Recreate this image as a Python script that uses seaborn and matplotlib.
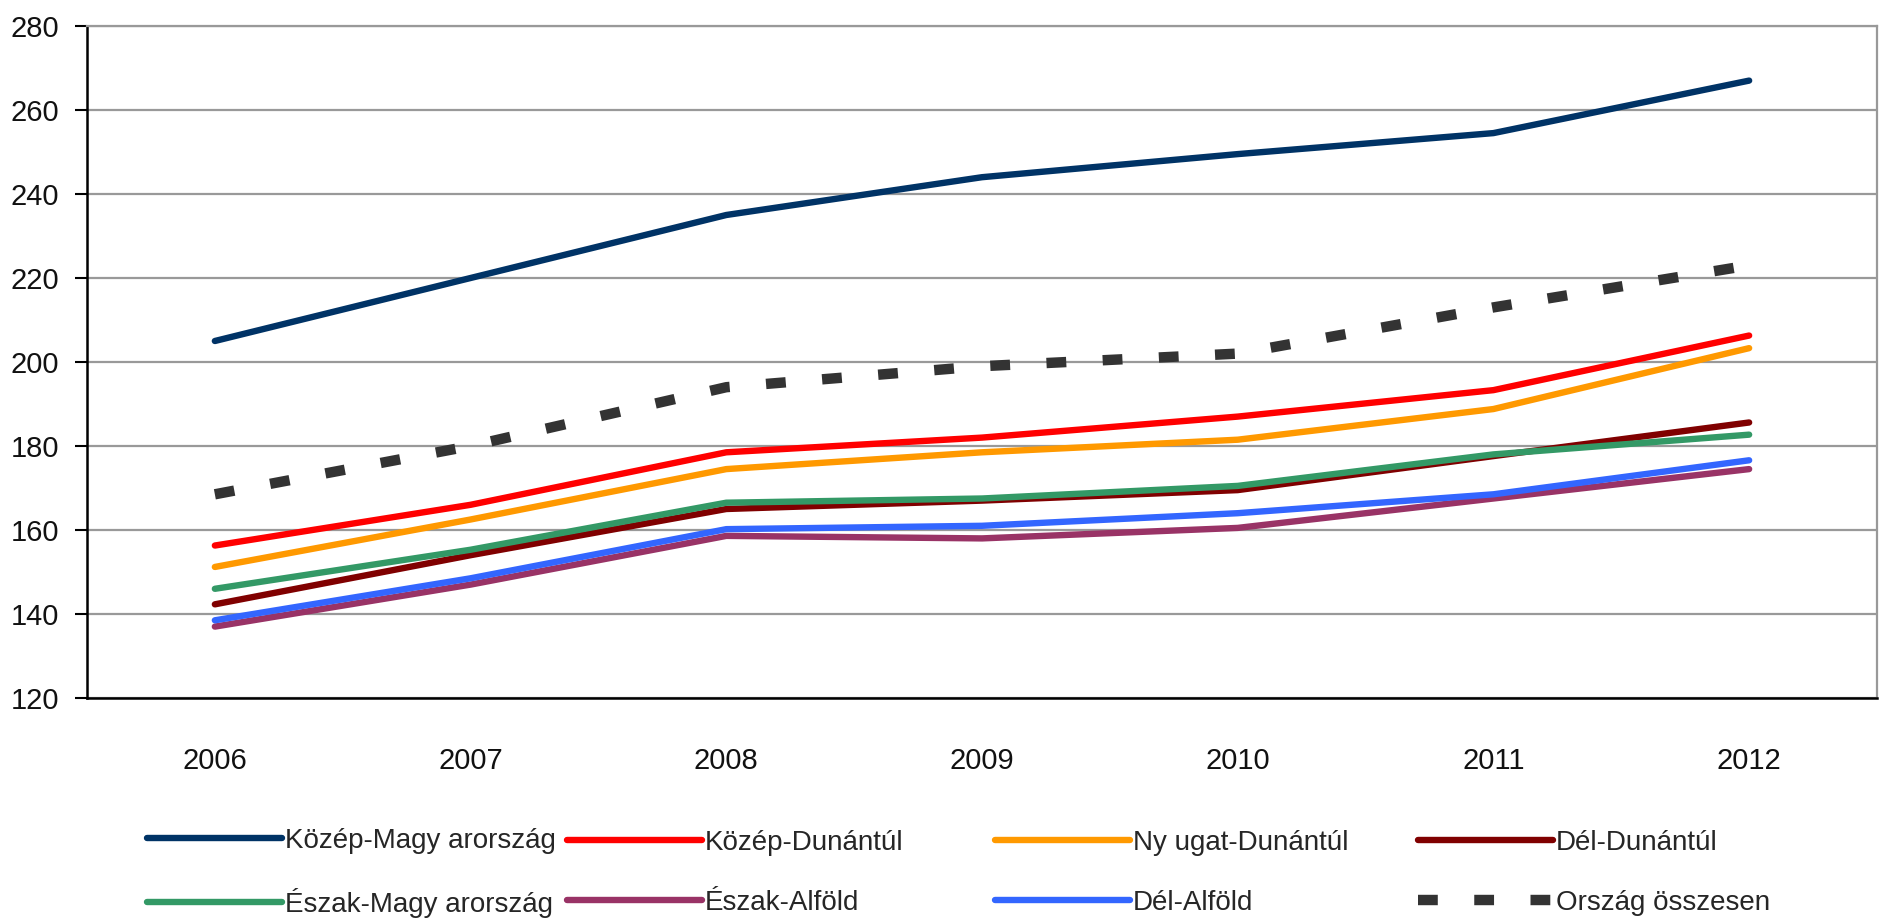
import pandas as pd
import seaborn as sns
import matplotlib.pyplot as plt

years = [2006, 2007, 2008, 2009, 2010, 2011, 2012]

kozep_magyarorszag = [205, 220, 235, 244, 249.5, 254.5, 267]
kozep_dunantul = [156.3, 166, 178.5, 182, 187, 193.3, 206.3]
nyugat_dunantul = [151.2, 162.5, 174.5, 178.5, 181.5, 188.8, 203.3]
del_dunantul = [142.3, 154, 165, 167, 169.5, 177.6, 185.6]
eszak_magyarorszag = [146, 155.3, 166.5, 167.5, 170.5, 178, 182.7]
eszak_alfold = [137, 147, 158.6, 158, 160.5, 167.5, 174.5]
del_alfold = [138.5, 148.5, 160.2, 161, 164, 168.5, 176.6]
orszag_osszesen = [168.5, 180, 194, 199, 202, 213, 223]

names = ["Közép-Magy arország", "Közép-Dunántúl", "Ny ugat-Dunántúl", "Dél-Dunántúl",
         "Észak-Magy arország", "Észak-Alföld", "Dél-Alföld", "Ország összesen"]
series = [kozep_magyarorszag, kozep_dunantul, nyugat_dunantul, del_dunantul,
          eszak_magyarorszag, eszak_alfold, del_alfold, orszag_osszesen]
colors = ["#003366", "#FF0000", "#FF9900", "#800000",
          "#339966", "#993366", "#3366FF", "#333333"]

sns.set_theme(style="white")
plt.rcParams['font.family'] = ['Liberation Sans', 'DejaVu Sans']

fig = plt.figure(figsize=(18.85, 9.18), dpi=100)
ax = fig.add_axes([87 / 1885, 1 - 698 / 918, (1877 - 87) / 1885, (698 - 26) / 918])

handles = []
for name, vals, c in zip(names, series, colors):
    df = pd.DataFrame({"year": years, "value": vals})
    if name == "Ország összesen":
        sns.lineplot(data=df, x="year", y="value", color=c, lw=7.5, ax=ax, zorder=3)
        line = ax.lines[-1]
        line.set_linestyle((0, (1.9, 3.5)))
        line.set_dash_capstyle("butt")
    else:
        sns.lineplot(data=df, x="year", y="value", color=c, lw=4.6, ax=ax, zorder=3)
        line = ax.lines[-1]
        line.set_solid_capstyle("round")
        line.set_solid_joinstyle("round")
    handles.append(line)

ax.set_xlim(2005.5, 2012.5)
ax.set_ylim(120, 280)
ax.set_yticks(range(120, 281, 20))
ax.set_xticks(years)
ax.set_xticklabels([str(y) for y in years])
ax.set_xlabel("")
ax.set_ylabel("")

ax.grid(axis="y", color="#999999", lw=1.6)
ax.grid(axis="x", visible=False)
ax.set_axisbelow(True)

for side in ["left", "bottom"]:
    ax.spines[side].set_color("black")
    ax.spines[side].set_linewidth(1.8)
ax.spines["right"].set_color("#999999")
ax.spines["right"].set_linewidth(1.6)
ax.spines["top"].set_color("#999999")
ax.spines["top"].set_linewidth(1.6)

ax.tick_params(axis="y", left=True, length=9, width=1.5, color="black",
               pad=11, labelsize=21, labelcolor="#111111")
ax.tick_params(axis="x", length=0, pad=35, labelsize=21, labelcolor="#111111")

# legend: four columns placed like the original
fs = 20
col_x = [147, 567, 995, 1418]
for i, x in enumerate(col_x):
    hs = [handles[i], handles[i + 4]]
    ls = [names[i], names[i + 4]]
    fig.legend(hs, ls, loc="center left", bbox_to_anchor=(x / 1885, 1 - 873 / 918),
               frameon=False, fontsize=fs, handlelength=135 / (fs * 100 / 72),
               handletextpad=0.1, labelspacing=1.22, borderpad=0, borderaxespad=0)

fig.savefig("out.png", dpi=100)
